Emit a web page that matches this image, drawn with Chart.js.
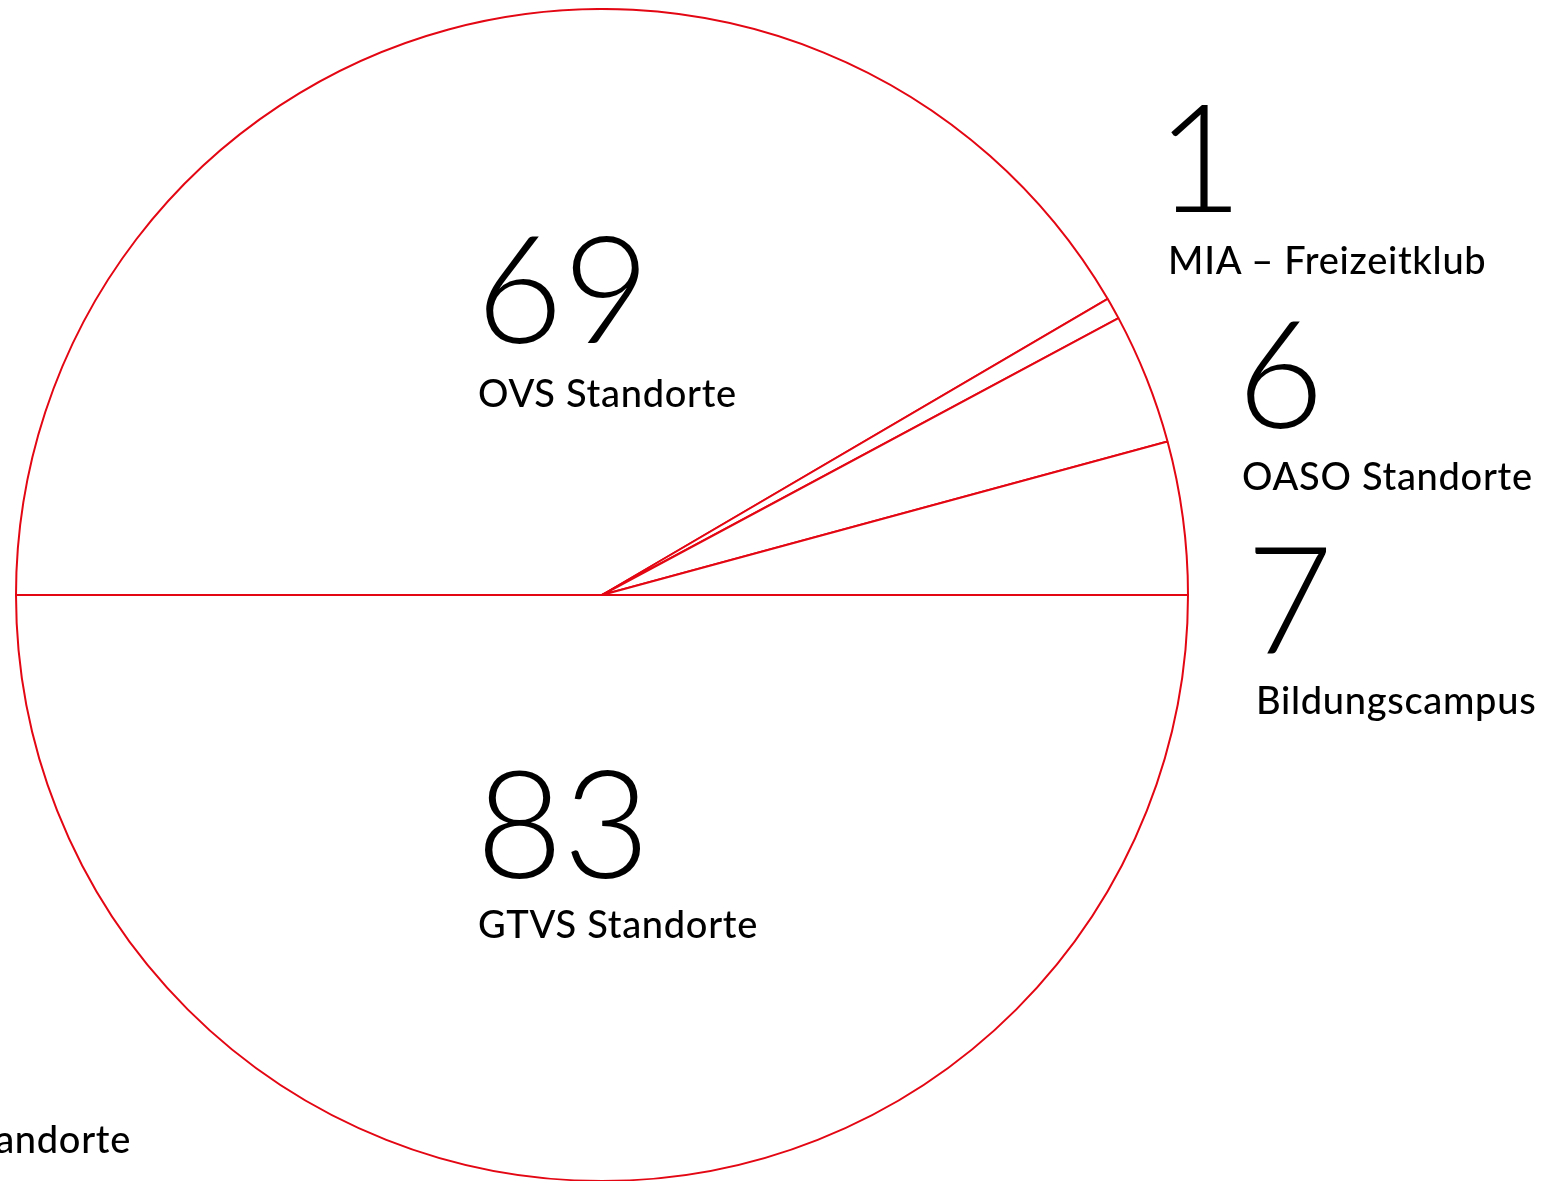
<!DOCTYPE html>
<html lang="de">
<head>
<meta charset="utf-8">
<title>Standorte</title>
<script src="https://cdn.jsdelivr.net/npm/chart.js@4"></script>
<style>
  html, body {
    margin: 0;
    padding: 0;
    background: #ffffff;
    width: 1555px;
    height: 1181px;
    overflow: hidden;
  }
  #stage {
    position: relative;
    width: 1555px;
    height: 1181px;
    font-family: "Lato", "Noto Sans", sans-serif;
    color: #000000;
  }
  #pieWrap {
    position: absolute;
    left: 15px;
    top: 8px;
    width: 1174px;
    height: 1174px;
  }
  .lbl {
    position: absolute;
    white-space: nowrap;
    line-height: 1;
  }
  .num {
    font-size: 150px;
    font-weight: 300;
  }
  .name {
    font-size: 38px;
    font-weight: 500;
    letter-spacing: 0.7px;
  }
</style>
</head>
<body>
<div id="stage">
  <div id="pieWrap"><canvas id="pieChart"></canvas></div>
</div>
<script>
// Data
const categories = ["GTVS Standorte", "OVS Standorte", "MIA – Freizeitklub", "OASO Standorte", "Bildungscampus"];
const counts = [83, 69, 1, 6, 7];

// Label placement (left/top of number, left/top of name) in page pixels
const labelLayout = [
  { nx: 476, ny: 745, tx: 478, ty: 904 },
  { nx: 476, ny: 210, tx: 478, ty: 373 },
  { nx: 1156, ny: 79, tx: 1168, ty: 240 },
  { nx: 1237, ny: 295, tx: 1242, ty: 456 },
  { nx: 1246, ny: 521, tx: 1256, ty: 680 },
];

document.addEventListener("DOMContentLoaded", function () {
  drawPie();
  addLabels();
});

function drawPie() {
  const ctx = document.getElementById("pieChart");
  new Chart(ctx, {
    type: "pie",
    data: {
      labels: categories,
      datasets: [
        {
          data: counts,
          backgroundColor: "#ffffff",
          borderColor: "#e30613",
          borderWidth: 2,
          hoverOffset: 0,
        },
      ],
    },
    options: {
      responsive: true,
      maintainAspectRatio: false,
      animation: false,
      rotation: 90,
      layout: { padding: 0 },
      plugins: {
        legend: { display: false },
        tooltip: { enabled: false },
      },
    },
  });
}

function addLabels() {
  const stage = document.getElementById("stage");
  categories.forEach((name, i) => {
    const pos = labelLayout[i];
    const num = document.createElement("div");
    num.className = "lbl num";
    num.style.left = pos.nx + "px";
    num.style.top = pos.ny + "px";
    num.textContent = counts[i];
    stage.appendChild(num);

    const txt = document.createElement("div");
    txt.className = "lbl name";
    txt.style.left = pos.tx + "px";
    txt.style.top = pos.ty + "px";
    txt.textContent = name;
    stage.appendChild(txt);
  });

  // label of a neighbouring chart, cut off at the left edge
  const cut = document.createElement("div");
  cut.className = "lbl name";
  cut.style.right = 1555 - 131 + "px";
  cut.style.top = 1119 + "px";
  cut.textContent = "Standorte";
  stage.appendChild(cut);
}
</script>
</body>
</html>
